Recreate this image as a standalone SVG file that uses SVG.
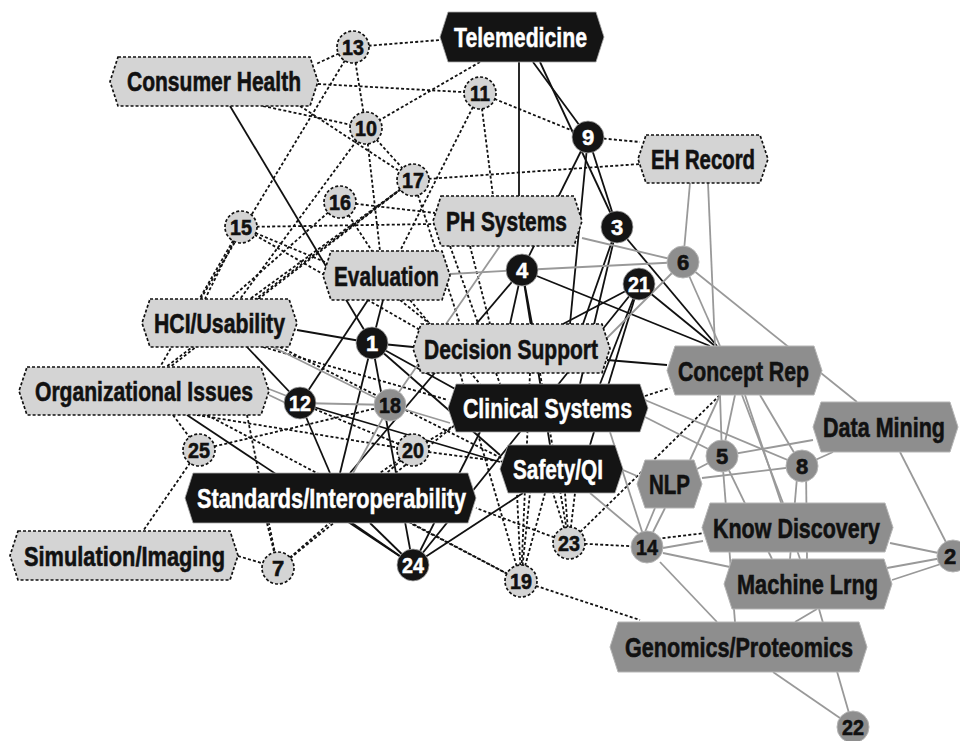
<svg xmlns="http://www.w3.org/2000/svg" width="960" height="741" viewBox="0 0 960 741">
<style>
.d{stroke:#111;stroke-width:1.8;stroke-dasharray:3 2.2;fill:none}
.s{stroke:#111;stroke-width:1.8;fill:none}
.g{stroke:#999;stroke-width:1.8;fill:none}
.lh{fill:#d4d4d4;stroke:#111;stroke-width:1.7;stroke-dasharray:3 2}
.bh{fill:#141414;stroke:#aaa;stroke-width:0.8}
.gh{fill:#8e8e8e;stroke:#b5b5b5;stroke-width:1}
text{font-family:"Liberation Sans",Arial,sans-serif;font-weight:bold;text-anchor:middle}
.t{font-size:28px}
.n{font-size:22px}
.w{fill:#fff;stroke:#fff;stroke-width:0.5}
.k{fill:#111;stroke:#111;stroke-width:0.6}
</style>
<rect width="960" height="741" fill="#fff"/>
<g id="connectors">
<line class="d" x1="353" y1="47" x2="440" y2="40"/>
<line class="d" x1="353" y1="47" x2="316" y2="64"/>
<line class="d" x1="353" y1="47" x2="366" y2="128"/>
<line class="d" x1="353" y1="47" x2="200" y2="300"/>
<line class="d" x1="318" y1="84" x2="480" y2="93"/>
<line class="d" x1="263" y1="106" x2="366" y2="128"/>
<line class="d" x1="300" y1="106" x2="413" y2="180"/>
<line class="d" x1="480" y1="62" x2="366" y2="128"/>
<line class="d" x1="480" y1="93" x2="588" y2="137"/>
<line class="d" x1="480" y1="93" x2="400" y2="251"/>
<line class="d" x1="480" y1="93" x2="493" y2="196"/>
<line class="d" x1="366" y1="128" x2="413" y2="180"/>
<line class="d" x1="366" y1="128" x2="240" y2="299"/>
<line class="d" x1="366" y1="128" x2="380" y2="251"/>
<line class="d" x1="588" y1="137" x2="640" y2="142"/>
<line class="d" x1="413" y1="180" x2="640" y2="164"/>
<line class="d" x1="413" y1="180" x2="250" y2="299"/>
<line class="d" x1="413" y1="180" x2="170" y2="367"/>
<line class="d" x1="410" y1="182" x2="166" y2="367"/>
<line class="d" x1="413" y1="180" x2="460" y2="324"/>
<line class="d" x1="340" y1="202" x2="435" y2="213"/>
<line class="d" x1="340" y1="202" x2="372" y2="251"/>
<line class="d" x1="340" y1="202" x2="230" y2="299"/>
<line class="d" x1="241" y1="227" x2="435" y2="224"/>
<line class="d" x1="241" y1="227" x2="325" y2="262"/>
<line class="d" x1="241" y1="227" x2="205" y2="299"/>
<line class="d" x1="241" y1="227" x2="160" y2="367"/>
<line class="d" x1="241" y1="227" x2="420" y2="330"/>
<line class="d" x1="400" y1="300" x2="430" y2="324"/>
<line class="d" x1="410" y1="300" x2="480" y2="384"/>
<line class="d" x1="470" y1="246" x2="490" y2="324"/>
<line class="d" x1="450" y1="246" x2="500" y2="384"/>
<line class="d" x1="263" y1="347" x2="448" y2="400"/>
<line class="d" x1="280" y1="347" x2="505" y2="460"/>
<line class="d" x1="173" y1="415" x2="199" y2="450"/>
<line class="d" x1="197" y1="415" x2="413" y2="450"/>
<line class="d" x1="207" y1="415" x2="521" y2="581"/>
<line class="d" x1="247" y1="415" x2="278" y2="568"/>
<line class="d" x1="199" y1="450" x2="143" y2="531"/>
<line class="d" x1="199" y1="450" x2="390" y2="405"/>
<line class="d" x1="238" y1="556" x2="278" y2="568"/>
<line class="d" x1="267" y1="523" x2="278" y2="568"/>
<line class="d" x1="278" y1="568" x2="413" y2="450"/>
<line class="d" x1="278" y1="568" x2="455" y2="425"/>
<line class="d" x1="413" y1="450" x2="455" y2="425"/>
<line class="d" x1="413" y1="450" x2="505" y2="462"/>
<line class="d" x1="413" y1="450" x2="380" y2="473"/>
<line class="d" x1="300" y1="403" x2="413" y2="450"/>
<line class="d" x1="521" y1="581" x2="517" y2="493"/>
<line class="d" x1="521" y1="581" x2="530" y2="493"/>
<line class="d" x1="521" y1="581" x2="545" y2="493"/>
<line class="d" x1="521" y1="581" x2="460" y2="373"/>
<line class="d" x1="521" y1="581" x2="410" y2="523"/>
<line class="d" x1="521" y1="581" x2="640" y2="620"/>
<line class="d" x1="569" y1="543" x2="553" y2="493"/>
<line class="d" x1="569" y1="543" x2="565" y2="493"/>
<line class="d" x1="569" y1="543" x2="575" y2="493"/>
<line class="d" x1="569" y1="543" x2="476" y2="508"/>
<line class="d" x1="569" y1="543" x2="647" y2="547"/>
<line class="d" x1="569" y1="543" x2="720" y2="395"/>
<line class="d" x1="540" y1="373" x2="569" y2="543"/>
<line class="d" x1="530" y1="373" x2="521" y2="581"/>
<line class="d" x1="645" y1="396" x2="670" y2="388"/>
<line class="d" x1="647" y1="540" x2="705" y2="533"/>
<line class="s" x1="230" y1="106" x2="372" y2="343"/>
<line class="s" x1="519" y1="62" x2="519" y2="196"/>
<line class="s" x1="533" y1="62" x2="588" y2="137"/>
<line class="s" x1="540" y1="62" x2="617" y2="227"/>
<line class="s" x1="588" y1="137" x2="522" y2="270"/>
<line class="s" x1="588" y1="137" x2="570" y2="324"/>
<line class="s" x1="588" y1="137" x2="617" y2="227"/>
<line class="s" x1="617" y1="227" x2="583" y2="324"/>
<line class="s" x1="617" y1="227" x2="580" y2="384"/>
<line class="s" x1="617" y1="227" x2="717" y2="346"/>
<line class="s" x1="522" y1="270" x2="510" y2="324"/>
<line class="s" x1="522" y1="270" x2="532" y2="324"/>
<line class="s" x1="522" y1="270" x2="550" y2="445"/>
<line class="s" x1="522" y1="270" x2="710" y2="346"/>
<line class="s" x1="522" y1="270" x2="350" y2="473"/>
<line class="s" x1="639" y1="284" x2="563" y2="324"/>
<line class="s" x1="639" y1="284" x2="600" y2="384"/>
<line class="s" x1="639" y1="284" x2="590" y2="445"/>
<line class="s" x1="639" y1="284" x2="715" y2="346"/>
<line class="s" x1="297" y1="330" x2="372" y2="343"/>
<line class="s" x1="372" y1="343" x2="413" y2="347"/>
<line class="s" x1="372" y1="343" x2="457" y2="390"/>
<line class="s" x1="372" y1="343" x2="500" y2="455"/>
<line class="s" x1="372" y1="343" x2="383" y2="300"/>
<line class="s" x1="372" y1="343" x2="340" y2="473"/>
<line class="s" x1="372" y1="343" x2="413" y2="565"/>
<line class="s" x1="300" y1="403" x2="368" y2="300"/>
<line class="s" x1="247" y1="347" x2="300" y2="403"/>
<line class="s" x1="300" y1="403" x2="330" y2="473"/>
<line class="s" x1="300" y1="403" x2="500" y2="462"/>
<line class="s" x1="187" y1="415" x2="413" y2="565"/>
<line class="s" x1="413" y1="565" x2="352" y2="523"/>
<line class="s" x1="413" y1="565" x2="370" y2="523"/>
<line class="s" x1="413" y1="565" x2="523" y2="493"/>
<line class="s" x1="413" y1="565" x2="480" y2="432"/>
<line class="s" x1="413" y1="565" x2="639" y2="284"/>
<line class="s" x1="607" y1="360" x2="667" y2="365"/>
<line class="g" x1="269" y1="389" x2="292" y2="398"/>
<line class="g" x1="269" y1="395" x2="290" y2="405"/>
<line class="g" x1="690" y1="183" x2="683" y2="262"/>
<line class="g" x1="708" y1="183" x2="715" y2="346"/>
<line class="g" x1="683" y1="262" x2="720" y2="346"/>
<line class="g" x1="683" y1="262" x2="857" y2="402"/>
<line class="g" x1="582" y1="238" x2="683" y2="262"/>
<line class="g" x1="450" y1="274" x2="522" y2="270"/>
<line class="g" x1="522" y1="270" x2="683" y2="262"/>
<line class="g" x1="683" y1="262" x2="605" y2="340"/>
<line class="g" x1="720" y1="395" x2="722" y2="456"/>
<line class="g" x1="735" y1="395" x2="722" y2="456"/>
<line class="g" x1="720" y1="395" x2="690" y2="460"/>
<line class="g" x1="742" y1="395" x2="783" y2="503"/>
<line class="g" x1="760" y1="395" x2="802" y2="466"/>
<line class="g" x1="745" y1="395" x2="800" y2="559"/>
<line class="g" x1="813" y1="440" x2="722" y2="456"/>
<line class="g" x1="833" y1="452" x2="802" y2="466"/>
<line class="g" x1="900" y1="452" x2="953" y2="556"/>
<line class="g" x1="645" y1="417" x2="722" y2="456"/>
<line class="g" x1="645" y1="400" x2="802" y2="466"/>
<line class="g" x1="722" y1="456" x2="695" y2="470"/>
<line class="g" x1="702" y1="478" x2="802" y2="466"/>
<line class="g" x1="722" y1="456" x2="735" y2="622"/>
<line class="g" x1="722" y1="456" x2="772" y2="559"/>
<line class="g" x1="798" y1="466" x2="790" y2="559"/>
<line class="g" x1="806" y1="466" x2="807" y2="559"/>
<line class="g" x1="655" y1="508" x2="645" y2="532"/>
<line class="g" x1="665" y1="508" x2="653" y2="532"/>
<line class="g" x1="590" y1="493" x2="640" y2="535"/>
<line class="g" x1="610" y1="432" x2="647" y2="547"/>
<line class="g" x1="623" y1="470" x2="637" y2="476"/>
<line class="g" x1="663" y1="548" x2="703" y2="541"/>
<line class="g" x1="663" y1="553" x2="730" y2="567"/>
<line class="g" x1="660" y1="562" x2="717" y2="622"/>
<line class="g" x1="890" y1="543" x2="953" y2="556"/>
<line class="g" x1="887" y1="568" x2="953" y2="556"/>
<line class="g" x1="892" y1="580" x2="953" y2="560"/>
<line class="g" x1="817" y1="609" x2="795" y2="622"/>
<line class="g" x1="819" y1="609" x2="853" y2="727"/>
<line class="g" x1="773" y1="672" x2="853" y2="727"/>
<line class="g" x1="273" y1="347" x2="390" y2="405"/>
<line class="g" x1="390" y1="405" x2="450" y2="423"/>
<line class="g" x1="390" y1="405" x2="353" y2="473"/>
<line class="g" x1="300" y1="403" x2="390" y2="405"/>
<line class="g" x1="390" y1="405" x2="500" y2="246"/>
</g>
<g id="telemedicine"><polygon class="bh" points="448,12 596,12 604,37 596,62 448,62 440,37"/><text class="t w" transform="translate(520.5,47) scale(0.78,1)" textLength="170.5" lengthAdjust="spacingAndGlyphs">Telemedicine</text></g>
<g id="consumer-health"><polygon class="lh" points="118,57 310,57 318,81.5 310,106 118,106 110,81.5"/><text class="t k" transform="translate(214,91) scale(0.78,1)" textLength="223" lengthAdjust="spacingAndGlyphs">Consumer Health</text></g>
<g id="eh-record"><polygon class="lh" points="646,135 760,135 768,159 760,183 646,183 638,159"/><text class="t k" transform="translate(703,169) scale(0.78,1)" textLength="133.3" lengthAdjust="spacingAndGlyphs">EH Record</text></g>
<g id="ph-systems"><polygon class="lh" points="441,196 574,196 582,221 574,246 441,246 433,221"/><text class="t k" transform="translate(506.5,231) scale(0.78,1)" textLength="155.1" lengthAdjust="spacingAndGlyphs">PH Systems</text></g>
<g id="evaluation"><polygon class="lh" points="331,251 442,251 450,275.5 442,300 331,300 323,275.5"/><text class="t k" transform="translate(386.5,285.5) scale(0.78,1)" textLength="134.6" lengthAdjust="spacingAndGlyphs">Evaluation</text></g>
<g id="hci-usability"><polygon class="lh" points="150,299 289,299 297,323 289,347 150,347 142,323"/><text class="t k" transform="translate(219.5,333) scale(0.78,1)" textLength="167.9" lengthAdjust="spacingAndGlyphs">HCI/Usability</text></g>
<g id="organizational-issues"><polygon class="lh" points="27,367 261,367 269,391 261,415 27,415 19,391"/><text class="t k" transform="translate(144,401) scale(0.78,1)" textLength="279.5" lengthAdjust="spacingAndGlyphs">Organizational Issues</text></g>
<g id="decision-support"><polygon class="lh" points="421,324 602,324 610,348.5 602,373 421,373 413,348.5"/><text class="t k" transform="translate(511,358.5) scale(0.78,1)" textLength="223" lengthAdjust="spacingAndGlyphs">Decision Support</text></g>
<g id="clinical-systems"><polygon class="bh" points="456,384 640,384 648,408 640,432 456,432 448,408"/><text class="t w" transform="translate(547.5,418) scale(0.78,1)" textLength="216.7" lengthAdjust="spacingAndGlyphs">Clinical Systems</text></g>
<g id="safety-qi"><polygon class="bh" points="508,445 615,445 623,469 615,493 508,493 500,469"/><text class="t w" transform="translate(558,479) scale(0.78,1)" textLength="115.4" lengthAdjust="spacingAndGlyphs">Safety/QI</text></g>
<g id="standards"><polygon class="bh" points="193,473 468,473 476,498 468,523 193,523 185,498"/><text class="t w" transform="translate(331.5,508) scale(0.78,1)" textLength="344.9" lengthAdjust="spacingAndGlyphs">Standards/Interoperability</text></g>
<g id="simulation-imaging"><polygon class="lh" points="18,531 230,531 238,555.5 230,580 18,580 10,555.5"/><text class="t k" transform="translate(124.5,565.5) scale(0.78,1)" textLength="257.7" lengthAdjust="spacingAndGlyphs">Simulation/Imaging</text></g>
<g id="concept-rep"><polygon class="gh" points="675,346 814,346 822,370.5 814,395 675,395 667,370.5"/><text class="t k" transform="translate(743.5,380.5) scale(0.78,1)" textLength="167.9" lengthAdjust="spacingAndGlyphs">Concept Rep</text></g>
<g id="data-mining"><polygon class="gh" points="821,402 950,402 958,427 950,452 821,452 813,427"/><text class="t k" transform="translate(884,437) scale(0.78,1)" textLength="156.4" lengthAdjust="spacingAndGlyphs">Data Mining</text></g>
<g id="nlp"><polygon class="gh" points="645,460 694,460 702,484 694,508 645,508 637,484"/><text class="t k" transform="translate(669.5,494) scale(0.78,1)" textLength="52.6" lengthAdjust="spacingAndGlyphs">NLP</text></g>
<g id="know-discovery"><polygon class="gh" points="710,503 885,503 893,527.5 885,552 710,552 702,527.5"/><text class="t k" transform="translate(796.5,537.5) scale(0.78,1)" textLength="214.1" lengthAdjust="spacingAndGlyphs">Know Discovery</text></g>
<g id="machine-lrng"><polygon class="gh" points="732,559 884,559 892,584 884,609 732,609 724,584"/><text class="t k" transform="translate(807.5,594) scale(0.78,1)" textLength="180.8" lengthAdjust="spacingAndGlyphs">Machine Lrng</text></g>
<g id="genomics-proteomics"><polygon class="gh" points="618,622 859,622 867,647 859,672 618,672 610,647"/><text class="t k" transform="translate(739,657) scale(0.78,1)" textLength="292.3" lengthAdjust="spacingAndGlyphs">Genomics/Proteomics</text></g>
<g id="n13"><circle class="lh" cx="353" cy="47" r="16"/><text class="n k" transform="translate(353,55) scale(0.9,1)" textLength="24.4" lengthAdjust="spacingAndGlyphs">13</text></g>
<g id="n11"><circle class="lh" cx="480" cy="93" r="16"/><text class="n k" transform="translate(480,101) scale(0.9,1)" textLength="22.2" lengthAdjust="spacingAndGlyphs">11</text></g>
<g id="n10"><circle class="lh" cx="366" cy="128" r="16"/><text class="n k" transform="translate(366,136) scale(0.9,1)" textLength="24.4" lengthAdjust="spacingAndGlyphs">10</text></g>
<g id="n9"><circle class="bh" cx="588" cy="137" r="16"/><text class="n w" x="588" y="145">9</text></g>
<g id="n17"><circle class="lh" cx="413" cy="180" r="16"/><text class="n k" transform="translate(413,188) scale(0.9,1)" textLength="24.4" lengthAdjust="spacingAndGlyphs">17</text></g>
<g id="n16"><circle class="lh" cx="340" cy="202" r="16"/><text class="n k" transform="translate(340,210) scale(0.9,1)" textLength="24.4" lengthAdjust="spacingAndGlyphs">16</text></g>
<g id="n3"><circle class="bh" cx="617" cy="227" r="16"/><text class="n w" x="617" y="235">3</text></g>
<g id="n15"><circle class="lh" cx="241" cy="227" r="16"/><text class="n k" transform="translate(241,235) scale(0.9,1)" textLength="24.4" lengthAdjust="spacingAndGlyphs">15</text></g>
<g id="n6"><circle class="gh" cx="683" cy="262" r="16"/><text class="n k" x="683" y="270">6</text></g>
<g id="n4"><circle class="bh" cx="522" cy="270" r="16"/><text class="n w" x="522" y="278">4</text></g>
<g id="n21"><circle class="bh" cx="639" cy="284" r="16"/><text class="n w" transform="translate(639,292) scale(0.9,1)" textLength="24.4" lengthAdjust="spacingAndGlyphs">21</text></g>
<g id="n1"><circle class="bh" cx="372" cy="343" r="16"/><text class="n w" x="372" y="351">1</text></g>
<g id="n12"><circle class="bh" cx="300" cy="403" r="16"/><text class="n w" transform="translate(300,411) scale(0.9,1)" textLength="24.4" lengthAdjust="spacingAndGlyphs">12</text></g>
<g id="n18"><circle class="gh" cx="390" cy="405" r="16"/><text class="n k" transform="translate(390,413) scale(0.9,1)" textLength="24.4" lengthAdjust="spacingAndGlyphs">18</text></g>
<g id="n25"><circle class="lh" cx="199" cy="450" r="16"/><text class="n k" transform="translate(199,458) scale(0.9,1)" textLength="24.4" lengthAdjust="spacingAndGlyphs">25</text></g>
<g id="n20"><circle class="lh" cx="413" cy="450" r="16"/><text class="n k" transform="translate(413,458) scale(0.9,1)" textLength="24.4" lengthAdjust="spacingAndGlyphs">20</text></g>
<g id="n5"><circle class="gh" cx="722" cy="456" r="16"/><text class="n k" x="722" y="464">5</text></g>
<g id="n8"><circle class="gh" cx="802" cy="466" r="16"/><text class="n k" x="802" y="474">8</text></g>
<g id="n14"><circle class="gh" cx="647" cy="547" r="16"/><text class="n k" transform="translate(647,555) scale(0.9,1)" textLength="24.4" lengthAdjust="spacingAndGlyphs">14</text></g>
<g id="n23"><circle class="lh" cx="569" cy="543" r="16"/><text class="n k" transform="translate(569,551) scale(0.9,1)" textLength="24.4" lengthAdjust="spacingAndGlyphs">23</text></g>
<g id="n24"><circle class="bh" cx="413" cy="565" r="16"/><text class="n w" transform="translate(413,573) scale(0.9,1)" textLength="24.4" lengthAdjust="spacingAndGlyphs">24</text></g>
<g id="n7"><circle class="lh" cx="278" cy="568" r="16"/><text class="n k" x="278" y="576">7</text></g>
<g id="n19"><circle class="lh" cx="521" cy="581" r="16"/><text class="n k" transform="translate(521,589) scale(0.9,1)" textLength="24.4" lengthAdjust="spacingAndGlyphs">19</text></g>
<g id="n2"><circle class="gh" cx="953" cy="556" r="16"/><text class="n k" x="950" y="564">2</text></g>
<g id="n22"><circle class="gh" cx="853" cy="727" r="16"/><text class="n k" transform="translate(853,735) scale(0.9,1)" textLength="24.4" lengthAdjust="spacingAndGlyphs">22</text></g>
</svg>
